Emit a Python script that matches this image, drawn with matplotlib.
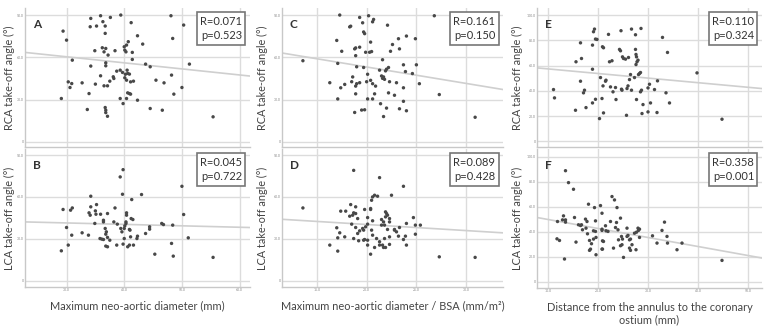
import matplotlib
matplotlib.use("Agg")
import matplotlib.pyplot as plt
import numpy as np

plt.rcParams['font.family'] = ['Lato', 'DejaVu Sans']

# ---------------- data ----------------
a_x = [34.2, 35.9, 37.6, 39.4, 48.1, 29.4, 30.0, 34.1, 35.2, 36.3, 36.7, 41.2, 50.3, 48.4, 36.7, 42.3,
       40.7, 40.4, 43.2, 34.9, 36.2, 36.8, 36.5, 37.2, 38.4, 40.0, 40.1, 40.3, 41.4, 41.4, 31.0, 34.2,
       36.8, 36.8, 43.7, 44.5, 51.3, 39.3, 38.7, 39.7, 40.5, 40.6, 40.2, 40.9, 35.9, 38.1, 38.2, 37.5,
       40.1, 40.4, 41.1, 41.6, 45.5, 46.9, 48.2, 30.3, 30.9, 30.6, 32.7, 35.0, 36.5, 37.1, 50.0, 33.9,
       40.6, 40.9, 41.1, 48.6, 29.1, 39.3, 39.8, 40.4, 42.3, 33.6, 36.7, 36.8, 36.8, 37.1, 44.5, 46.6, 55.4]
a_y = [87.6, 89.5, 88.3, 90.0, 89.5, 78.6, 72.2, 81.7, 82.2, 85.3, 82.2, 84.6, 82.9, 73.4, 77.0, 75.3,
       71.1, 68.7, 69.4, 64.7, 66.8, 66.3, 63.9, 61.6, 64.7, 67.5, 65.1, 63.9, 63.5, 58.5, 58.0, 53.8,
       56.1, 54.0, 55.2, 53.3, 55.2, 50.9, 50.2, 49.3, 50.9, 48.6, 48.0, 48.1, 46.9, 46.2, 45.0, 43.1,
       45.5, 43.8, 42.6, 43.1, 43.8, 41.9, 47.4, 42.6, 41.4, 38.6, 41.9, 41.0, 39.8, 39.8, 38.6, 34.3,
       34.8, 34.3, 33.9, 33.9, 30.8, 30.8, 27.2, 30.8, 29.6, 23.0, 24.4, 22.5, 20.8, 18.2, 23.7, 22.5, 17.8]

b_x = [39.8, 39.3, 50.0, 29.4, 30.7, 31.0, 30.0, 30.9, 30.3, 29.1, 32.7, 33.8, 34.2, 34.2, 35.2, 35.0,
       33.9, 34.1, 35.1, 35.9, 36.4, 34.9, 36.4, 37.1, 36.7, 36.9, 36.8, 35.8, 36.1, 36.4, 37.1, 37.5,
       36.8, 37.1, 38.7, 38.4, 38.2, 38.8, 39.7, 39.4, 39.6, 40.0, 40.3, 40.4, 40.4, 40.3, 40.1, 40.0,
       39.8, 40.6, 40.9, 41.1, 41.0, 40.9, 41.2, 41.5, 41.3, 43.0, 41.6, 42.2, 42.3, 43.7, 44.4, 44.4,
       46.5, 46.8, 48.4, 50.3, 51.1, 48.2, 45.3, 48.5, 55.4]
b_y = [79.5, 74.3, 67.6, 51.0, 50.5, 52.1, 38.1, 32.6, 25.5, 21.4, 34.3, 32.6, 60.5, 52.9, 54.5, 50.0,
       48.6, 46.9, 47.6, 47.6, 43.3, 41.0, 42.1, 48.1, 37.4, 35.0, 33.3, 30.2, 29.8, 29.5, 31.0, 29.0,
       24.8, 24.3, 25.5, 52.1, 42.1, 40.5, 61.9, 37.4, 35.0, 37.4, 41.0, 48.6, 46.9, 42.1, 39.3, 30.2,
       26.2, 24.3, 25.5, 31.4, 36.2, 36.7, 44.5, 43.8, 58.1, 61.7, 25.5, 30.2, 31.9, 33.8, 38.6, 36.9,
       41.0, 40.2, 39.8, 47.4, 30.7, 26.7, 19.0, 17.6, 16.7]

c_x = [17.3, 19.3, 19.6, 20.2, 20.7, 20.6, 18.3, 18.4, 22.1, 19.7, 19.8, 26.8, 17.0, 20.4, 22.6, 24.0,
       23.2, 24.9, 17.5, 18.8, 18.9, 19.3, 19.9, 20.3, 20.5, 23.3, 22.4, 18.9, 13.6, 17.1, 21.6, 19.0,
       19.7, 23.7, 25.0, 21.3, 22.0, 21.9, 22.2, 20.1, 23.9, 24.6, 21.5, 21.7, 21.6, 21.8, 18.6, 18.5,
       19.0, 18.9, 19.3, 20.0, 20.4, 20.6, 20.9, 22.3, 23.0, 16.3, 17.8, 17.4, 23.7, 25.3, 18.9, 20.8,
       22.2, 22.8, 27.3, 17.1, 20.1, 20.6, 21.4, 22.0, 23.7, 23.3, 24.0, 18.8, 19.5, 19.8, 21.7, 30.9]
c_y = [90.0, 88.3, 84.5, 89.5, 86.9, 85.2, 81.6, 82.1, 82.8, 78.0, 76.8, 89.5, 72.0, 70.8, 69.1, 75.1,
       73.2, 73.2, 64.3, 66.0, 66.7, 67.2, 63.6, 63.6, 64.1, 66.0, 64.3, 61.2, 57.6, 55.7, 58.3, 53.3,
       52.8, 54.7, 54.7, 50.9, 51.6, 50.4, 52.8, 48.0, 49.9, 48.5, 46.8, 46.1, 45.1, 44.4, 46.1, 42.7,
       41.3, 39.6, 42.0, 42.7, 43.7, 41.3, 39.6, 42.7, 42.0, 42.0, 40.8, 38.4, 38.4, 41.3, 34.1, 34.1,
       34.8, 33.1, 33.6, 30.5, 30.5, 30.5, 27.1, 24.0, 28.8, 23.5, 22.1, 20.9, 22.6, 22.8, 18.0, 17.5]

d_x = [18.7, 21.3, 23.7, 13.6, 18.4, 18.9, 17.4, 17.9, 18.7, 18.9, 18.3, 18.6, 19.1, 19.8, 20.1, 20.4,
       20.6, 20.8, 20.5, 21.1, 22.5, 20.4, 21.9, 22.0, 22.1, 21.9, 22.3, 22.3, 24.7, 24.0, 24.9, 25.4,
       17.0, 17.3, 18.5, 18.9, 19.1, 19.3, 19.6, 19.7, 19.9, 20.1, 20.6, 21.5, 21.7, 21.5, 21.8, 22.1,
       22.8, 23.0, 22.8, 23.3, 24.9, 17.1, 17.8, 18.7, 19.2, 19.7, 19.8, 20.1, 20.5, 20.6, 21.0, 21.3,
       21.8, 22.3, 23.2, 23.7, 23.9, 16.3, 17.1, 20.1, 20.4, 20.8, 21.3, 21.6, 21.7, 21.9, 22.3, 24.0,
       27.3, 30.9]
d_y = [79.0, 73.8, 67.6, 52.1, 54.5, 52.9, 49.8, 49.8, 48.6, 48.1, 46.2, 46.9, 44.5, 51.0, 45.2, 51.0,
       60.0, 61.2, 57.6, 60.5, 61.2, 51.7, 49.3, 48.1, 46.9, 45.7, 44.5, 42.1, 45.2, 41.0, 39.8, 39.8,
       37.9, 34.3, 40.5, 38.1, 33.8, 35.7, 37.4, 36.2, 38.6, 40.5, 42.9, 43.8, 42.1, 39.8, 39.8, 36.7,
       36.7, 35.0, 36.2, 38.1, 33.3, 30.7, 31.4, 30.2, 28.6, 29.0, 29.5, 29.0, 36.2, 32.6, 30.2, 27.9,
       30.2, 31.4, 31.9, 29.5, 31.9, 25.5, 21.2, 25.5, 19.0, 23.8, 25.5, 25.5, 23.8, 23.8, 26.0, 25.5,
       17.1, 16.7]

e_x = [11.1, 11.3, 15.5, 15.6, 16.5, 16.7, 16.5, 17.1, 17.3, 17.6, 18.9, 18.9, 18.9, 19.1, 19.3, 19.5,
       19.8, 19.5, 20.3, 20.5, 20.8, 20.9, 21.1, 21.1, 21.0, 21.5, 21.6, 22.1, 22.3, 22.5, 22.8, 23.0,
       23.5, 23.6, 24.3, 24.5, 24.6, 24.7, 24.8, 24.9, 25.1, 25.5, 25.8, 26.0, 25.7, 26.1, 26.3, 26.5,
       26.7, 26.7, 27.3, 27.5, 27.5, 27.6, 27.7, 27.6, 27.8, 27.7, 28.0, 28.1, 28.3, 28.5, 28.6, 28.5,
       28.7, 28.8, 29.0, 30.0, 30.0, 30.3, 30.5, 31.3, 31.8, 31.9, 32.9, 33.6, 33.9, 34.3, 39.8, 44.8]
e_y = [41.0, 34.4, 24.6, 63.0, 78.0, 65.6, 47.6, 38.4, 40.5, 26.7, 76.2, 57.1, 30.4, 86.8, 88.9, 81.0,
       80.7, 33.3, 18.0, 50.5, 33.9, 74.9, 74.1, 22.5, 43.9, 47.6, 48.4, 84.7, 63.0, 43.1, 63.8, 39.2,
       42.6, 33.1, 72.8, 71.7, 87.6, 41.3, 40.5, 66.9, 65.6, 65.1, 41.8, 43.9, 20.6, 66.4, 48.9, 52.9,
       88.9, 40.5, 50.5, 84.4, 72.8, 68.8, 66.9, 60.8, 63.0, 33.1, 64.3, 52.9, 53.7, 54.5, 89.4, 39.2,
       40.5, 22.0, 29.1, 42.3, 23.3, 45.2, 30.4, 41.0, 22.8, 47.9, 82.3, 38.4, 70.4, 30.4, 54.2, 17.5]

f_x = [13.5, 14.1, 15.1, 13.1, 13.5, 13.5, 12.9, 11.9, 11.8, 12.3, 13.3, 15.3, 15.6, 16.1, 16.5, 16.7,
       16.9, 17.5, 17.8, 17.6, 17.9, 18.1, 18.3, 18.3, 18.5, 18.7, 19.1, 19.1, 19.3, 19.5, 19.5, 19.6,
       19.6, 20.5, 20.8, 20.8, 20.8, 20.9, 21.1, 20.8, 20.9, 21.5, 21.6, 22.0, 22.5, 22.8, 23.3, 23.7,
       23.5, 23.8, 24.0, 24.1, 24.5, 24.5, 24.7, 24.8, 24.9, 25.1, 23.1, 25.8, 25.8, 26.0, 26.3, 26.3,
       26.5, 26.5, 26.8, 27.3, 27.6, 27.7, 28.0, 28.1, 28.3, 28.3, 30.9, 31.8, 32.8, 33.3, 33.8, 33.9,
       35.8, 36.8, 44.8]
f_y = [88.7, 79.2, 73.9, 52.7, 49.5, 47.7, 49.5, 48.2, 34.4, 33.1, 18.3, 51.4, 31.8, 45.6, 45.0, 45.6,
       41.6, 50.1, 48.2, 42.9, 38.4, 62.0, 33.1, 25.2, 26.2, 30.5, 34.2, 40.8, 59.3, 48.7, 40.3, 35.5,
       21.7, 60.9, 54.8, 42.1, 41.1, 32.8, 32.3, 26.2, 26.2, 44.8, 40.8, 40.3, 48.2, 68.1, 65.4, 47.4,
       43.4, 59.3, 41.6, 33.6, 50.9, 28.9, 36.3, 29.7, 34.2, 19.6, 27.0, 42.9, 36.3, 37.1, 33.6, 27.0,
       34.2, 25.2, 29.7, 38.9, 25.7, 39.7, 42.9, 41.1, 42.1, 35.5, 36.8, 31.0, 41.1, 47.7, 36.3, 31.0,
       25.7, 31.0, 17.2]

# regression lines: (intercept, slope) as drawn
fit_a = (73.3, -0.43)
fit_b = (44.45, -0.103)
fit_c = (76.5, -1.167)
fit_d = (49.0, -0.437)
fit_e = (61.0, -0.364)
fit_f = (57.0, -0.718)

letters = ['A', 'B', 'C', 'D', 'E', 'F']
stats = ['R=0.071\np=0.523', 'R=0.045\np=0.722', 'R=0.161\np=0.150',
         'R=0.089\np=0.428', 'R=0.110\np=0.324', 'R=0.358\np=0.001']
ylabels = ['RCA take-off angle (°)', 'LCA take-off angle (°)']
xlabels = ['Maximum neo-aortic diameter (mm)',
           'Maximum neo-aortic diameter / BSA (mm/m²)',
           'Distance from the annulus to the coronary\nostium (mm)']

xticks_ab = [30.0, 40.0, 50.0, 60.0]
xticks_cd = [15.0, 20.0, 25.0, 30.0]
xticks_ef = [10.0, 20.0, 30.0, 40.0, 50.0]
yticks_abcd = [0, 30.0, 60.0, 90.0]
yticks_ef = [0, 20.0, 40.0, 60.0, 80.0, 100.0]

# ---------------- figure ----------------
W, H = 765, 327
fig = plt.figure(figsize=(W / 100, H / 100), dpi=100)


def px_axes(l, t, r, b):
    return fig.add_axes([l / W, 1 - b / H, (r - l) / W, (b - t) / H])


panels = [
    (a_x, a_y, fit_a, (25, 8, 250, 147), (22.8, 61.8), (-3.6, 95), xticks_ab, yticks_abcd, -0.045),
    (b_x, b_y, fit_b, (25, 149, 250, 287), (22.8, 61.8), (-4.5, 94.3), xticks_ab, yticks_abcd, -0.045),
    (c_x, c_y, fit_c, (282, 8, 503, 147), (11.5, 33.7), (-3.6, 95), xticks_cd, yticks_abcd, -0.065),
    (d_x, d_y, fit_d, (282, 149, 503, 287), (11.5, 33.7), (-4.5, 94.3), xticks_cd, yticks_abcd, -0.065),
    (e_x, e_y, fit_e, (537, 8, 762, 147), (7.8, 52.8), (-4.5, 105.6), xticks_ef, yticks_ef, -0.062),
    (f_x, f_y, fit_f, (537, 149, 762, 288), (7.8, 52.8), (-4.8, 106), xticks_ef, yticks_ef, -0.062),
]

grid_c = '#dcdcdc'
for i, (xs, ys, fit, box, xl, yl, xt, yt, lx) in enumerate(panels):
    ax = px_axes(*box)
    ax.set_xlim(*xl)
    ax.set_ylim(*yl)
    ax.set_xticks(xt)
    ax.set_yticks(yt)
    ax.set_yticklabels(['0' if v == 0 else f'{v:.1f}' for v in yt])
    if i % 2 == 1:
        ax.set_xticklabels([f'{v:.1f}' for v in xt])
    else:
        ax.set_xticklabels([])
    ax.tick_params(length=0, labelsize=2.5, colors='#888888', pad=1)
    ax.grid(True, color=grid_c, lw=1.0)
    ax.set_axisbelow(True)
    for s in ['top', 'right']:
        ax.spines[s].set_visible(False)
    for s in ['left', 'bottom']:
        ax.spines[s].set_color('#c8c8c8')
        ax.spines[s].set_linewidth(1.0)
    xx = np.array(xl)
    ax.plot(xx, fit[0] + fit[1] * xx, color='#cfcfcf', lw=1.2, zorder=2)
    ax.scatter(xs, ys, s=6, color='#484848', edgecolors='none', zorder=3)
    ax.text(0.035, 0.92, letters[i], transform=ax.transAxes, fontsize=8.5,
            fontweight='bold', color='#333333', va='top', ha='left')
    ax.text(0.965, 0.945, stats[i], transform=ax.transAxes, fontsize=8,
            va='top', ha='right', color='#333333', linespacing=1.4,
            bbox=dict(boxstyle='square,pad=0.3', fc='white', ec='#777777', lw=1.2))
    ylab = ylabels[i % 2]
    ax.set_ylabel(ylab, fontsize=7.8, color='#444444')
    ax.yaxis.set_label_coords(lx, 0.5)
    if i % 2 == 1:
        ax.set_xlabel(xlabels[i // 2], fontsize=7.9, color='#444444', labelpad=6)

fig.savefig('out.png', dpi=100)
